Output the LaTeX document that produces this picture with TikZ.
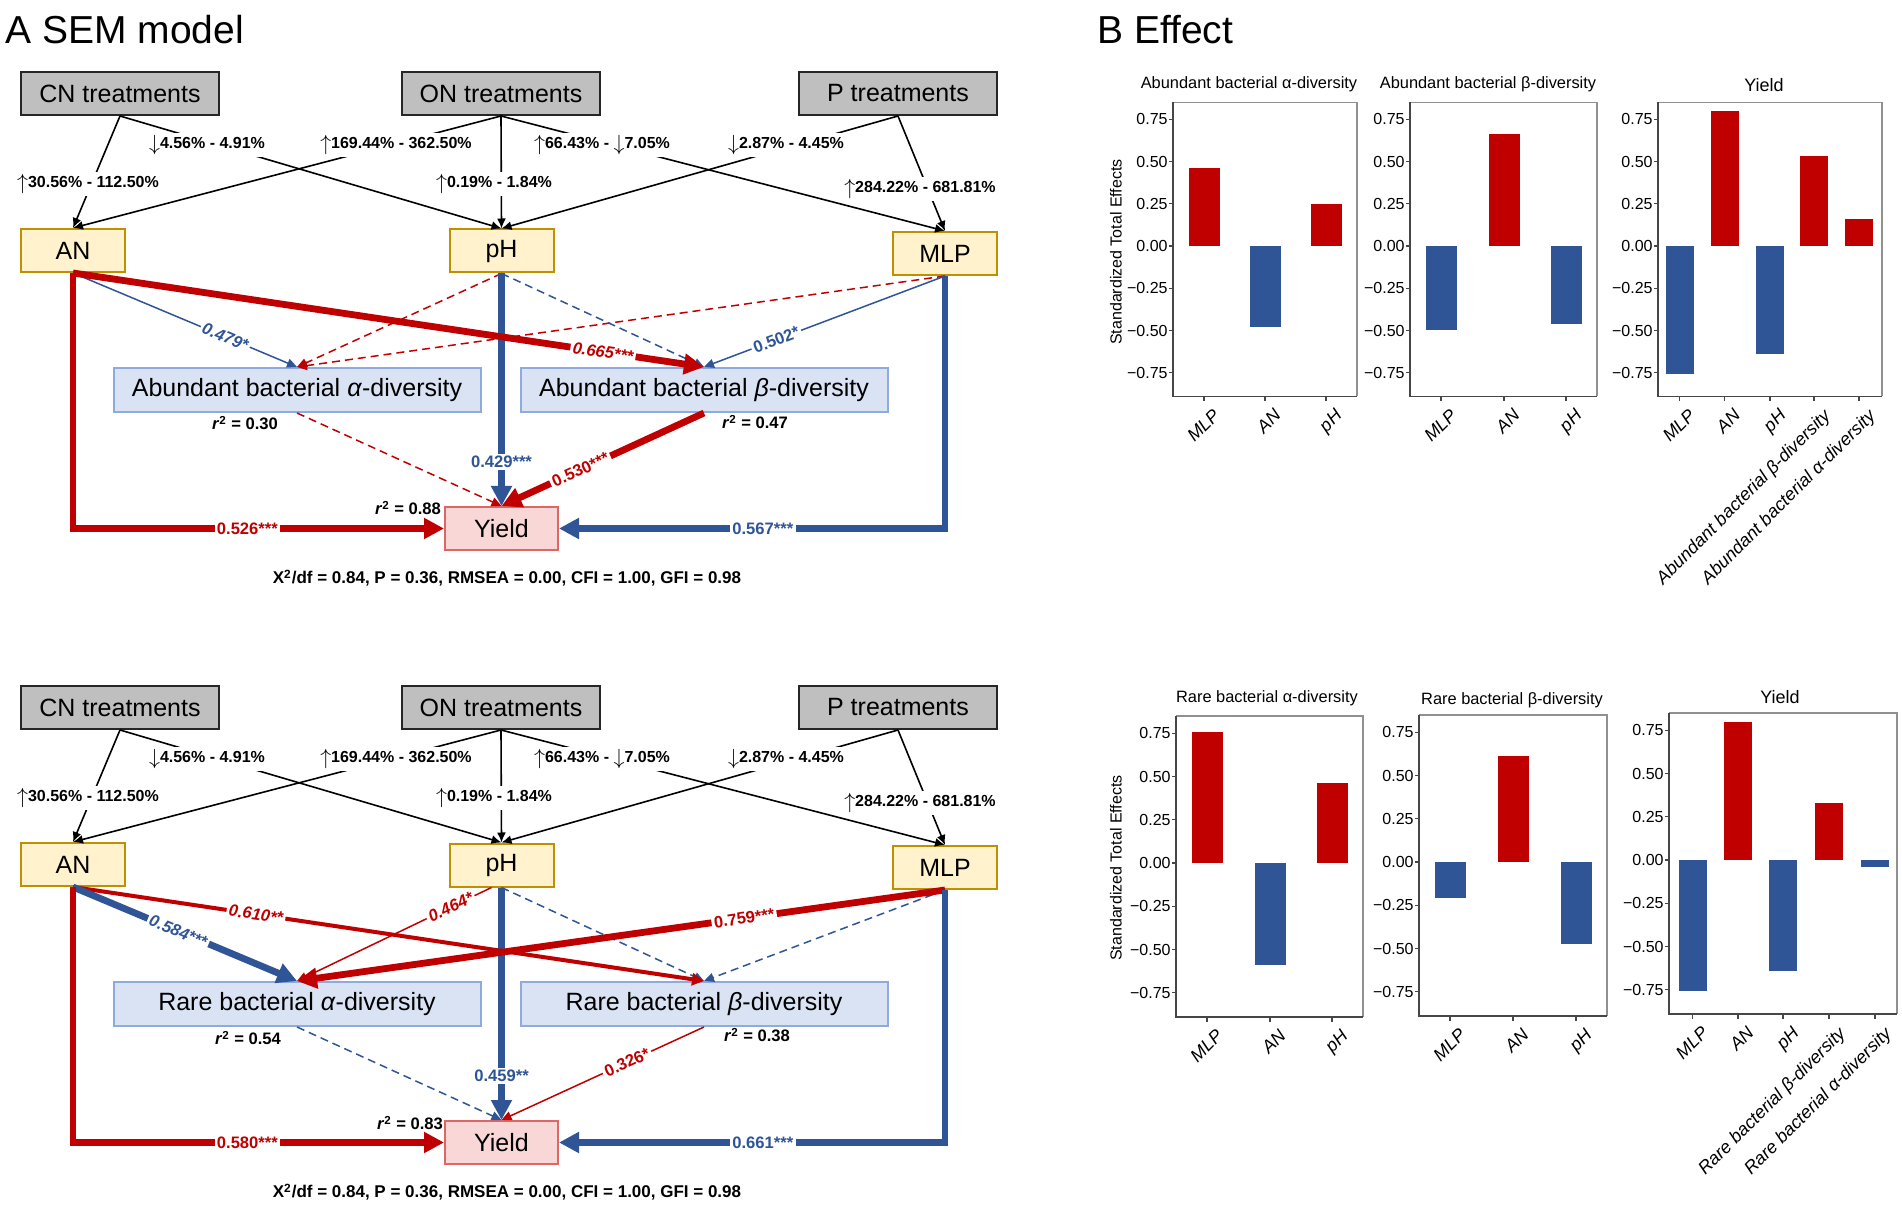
\documentclass[tikz,border=0pt]{standalone}
\usepackage{fontspec}
\setmainfont{Liberation Sans}
\usetikzlibrary{arrows.meta}
\definecolor{cred}{RGB}{192,0,0}
\definecolor{cblue}{RGB}{47,85,151}
\definecolor{boxgray}{RGB}{191,191,191}
\definecolor{ylfill}{RGB}{255,242,204}
\definecolor{ylborder}{RGB}{191,144,0}
\definecolor{blfill}{RGB}{218,227,243}
\definecolor{blborder}{RGB}{143,170,220}
\definecolor{ydfill}{RGB}{250,215,215}
\definecolor{ydborder}{RGB}{224,102,102}
\definecolor{axisc}{RGB}{70,70,70}
\newcommand\fsz[1]{\fontsize{#1}{#1}\selectfont}
\newcommand\upa{\raisebox{-0.8pt}{\fsz{10.5}$\uparrow$}}
\newcommand\dna{\raisebox{-0.8pt}{\fsz{10.5}$\downarrow$}}
\tikzset{
 nbox/.style={line width=1pt, minimum height=21.5pt, inner sep=0pt, font=\fsz{12.5}},
 grbox/.style={nbox, draw=black!85, fill=boxgray, minimum width=99pt},
 ylbox/.style={nbox, draw=ylborder, fill=ylfill, minimum width=52pt},
 blbox/.style={nbox, draw=blborder, fill=blfill, minimum width=183.5pt, minimum height=22pt},
 ydbox/.style={nbox, draw=ydborder, fill=ydfill, minimum width=56.5pt},
 pct/.style={fill=white, inner sep=1pt, font=\bfseries\fsz{8}},
 blk/.style={draw=black, line width=0.8pt, -{Latex[length=5pt,width=4.5pt]}},
 lab/.style={fill=white, inner sep=1.2pt, font=\bfseries\fsz{8.3}},
 it/.style={font=\bfseries\itshape\fsz{8.3}},
 rlab/.style={lab, text=cred},
 blab/.style={lab, text=cblue},
 thickR/.style={draw=cred, line width=3.4pt, -{Triangle[length=10pt,width=10pt]}},
 thickB/.style={draw=cblue, line width=3.4pt, -{Triangle[length=10pt,width=10pt]}},
 medR/.style={draw=cred, line width=2pt, -{Triangle[length=6pt,width=6pt]}},
 thinR/.style={draw=cred, line width=0.75pt, -{Triangle[length=5pt,width=4.5pt]}},
 thinB/.style={draw=cblue, line width=0.75pt, -{Triangle[length=5pt,width=4.5pt]}},
 dashR/.style={thinR, dash pattern=on 4pt off 2.5pt},
 dashB/.style={thinB, dash pattern=on 4pt off 2.5pt},
 rtwo/.style={font=\bfseries\fsz{8.3}, inner sep=0pt},
 fitlab/.style={font=\bfseries\fsz{8.5}, inner sep=0pt},
 ptitle/.style={font=\fsz{19.5}, anchor=west, inner sep=0pt},
 ticklab/.style={font=\fsz{8}, inner sep=0pt, anchor=east},
 ctitle/.style={font=\fsz{8.2}, inner sep=0pt},
 ytitle/.style={font=\fsz{8}, inner sep=0pt, rotate=90},
 xlab/.style={anchor=north east, rotate=45, font=\itshape\fsz{9}, inner sep=0pt},
 axl/.style={draw=axisc, line width=0.6pt},
}
\newcommand\semcommon[2]{%
 \node[grbox] (#1cn) at (120,93.5) {CN treatments};
 \node[grbox] (#1on) at (501,93.5) {ON treatments};
 \node[grbox] (#1p) at (898,93.5) {P treatments};
 \node[ylbox] (#1an) at (73,250.5) {AN};
 \node[ylbox] (#1ph) at (501.5,251) {pH};
 \node[ylbox] (#1mlp) at (945,253.5) {MLP};
 \node[blbox] (#1a) at (297,390) {#2 bacterial \textit{α}-diversity};
 \node[blbox] (#1b) at (704,390) {#2 bacterial \textit{β}-diversity};
 \node[ydbox] (#1y) at (501.5,528.5) {Yield};
 \draw[blk] (#1cn.south) -- (#1an.north);
 \draw[blk] (#1cn.south) -- (#1ph.north);
 \draw[blk] (#1on.south) -- (#1an.north);
 \draw[blk] (#1on.south) -- (#1ph.north);
 \draw[blk] (#1on.south) -- (#1mlp.north);
 \draw[blk] (#1p.south) -- (#1ph.north);
 \draw[blk] (#1p.south) -- (#1mlp.north);
 \node[pct] (#1l1) at (88,184) {\upa30.56\% - 112.50\%};
 \node[pct] (#1l2) at (207,145) {\dna4.56\% - 4.91\%};
 \node[pct] (#1l3) at (396,145) {\upa169.44\% - 362.50\%};
 \node[pct] (#1l4) at (494,184) {\upa0.19\% - 1.84\%};
 \node[pct] (#1l5) at (602,145) {\upa66.43\% - \dna7.05\%};
 \node[pct] (#1l6) at (786,145) {\dna2.87\% - 4.45\%};
 \node[pct] (#1l7) at (920,189) {\upa284.22\% - 681.81\%};
 \node[fitlab] (#1fit) at (507,578) {X\textsuperscript{2}/df = 0.84, P = 0.36, RMSEA = 0.00, CFI = 1.00, GFI = 0.98};
}
% #1 x0, #2 x1, #3 zero y, #4 unit (px per 1.0), #5 prefix
\newcommand\chartaxes[5]{%
 \draw[axl, draw=axisc!60, line width=0.7pt] (#1,{#3-0.85*#4}) -- (#2,{#3-0.85*#4}) -- (#2,{#3+0.89*#4});
 \draw[axl, line width=0.8pt] (#1,{#3-0.85*#4}) -- (#1,{#3+0.89*#4}) -- (#2,{#3+0.89*#4});
 \foreach \v/\lab [count=\i] in {0.75/0.75, 0.5/0.50, 0.25/0.25, 0/0.00, -0.25/−0.25, -0.5/−0.50, -0.75/−0.75} {
   \draw[axl] ({#1-4},{#3-(\v)*#4}) -- (#1,{#3-(\v)*#4});
   \node[ticklab] (#5y\i) at ({#1-5},{#3-(\v)*#4}) {\lab};
 }
}
% #1 zero y, #2 unit, #3 half width, #4 prefix, #5 list
\newcommand\chartbars[5]{%
 \foreach \cx/\v/\cc/\lab [count=\i] in {#5} {
   \fill[\cc] ({\cx-#3},#1) rectangle ({\cx+#3},{#1-(\v)*#2});
   \draw[axl] (\cx,{#1+0.89*#2}) -- (\cx,{#1+0.89*#2+5});
   \node[xlab] (#4x\i) at ({\cx+8},{#1+0.89*#2+11}) {\lab};
 }
}
\begin{document}
\begin{tikzpicture}[x=0.5pt,y=-0.5pt]
\fill[white] (0,0) rectangle (1902,1208);
\useasboundingbox (0,0) rectangle (1902,1208);
\node[ptitle] (tA) at (5,30) {A SEM model};
\node[ptitle] (tB) at (1097,30) {B Effect};

% ---------------- top SEM ----------------
\semcommon{t}{Abundant}
\draw[dashR] (tph.south) -- (ta.north);
\draw[dashR] (tmlp.south) -- (ta.north);
\draw[dashB] (tph.south) -- (tb.north);
\draw[dashR] (ta.south) -- (ty.north);
\draw[thickB] (tph.south) -- node[blab,pos=0.81]{0.429***} (ty.north);
\draw[thinB] (tan.south) -- node[blab,it,sloped,pos=0.68]{0.479*} (ta.north);
\draw[thinB] (tmlp.south) -- node[blab,sloped,pos=0.70]{0.502*} (tb.north);
\draw[thickR] (tan.south) -- node[rlab,it,sloped,pos=0.84]{0.665***} (tb.north);
\draw[thickR] (tb.south) -- node[rlab,sloped,pos=0.61]{0.530***} (ty.north);
\draw[thickR] (tan.south) |- node[rlab,pos=0.735]{0.526***} (ty.west);
\draw[thickB] (tmlp.south) |- node[blab,pos=0.736]{0.567***} (ty.east);
\node[rtwo] (tr1) at (245,423) {\textit{r}\textsuperscript{2} = 0.30};
\node[rtwo] (tr2) at (755,422) {\textit{r}\textsuperscript{2} = 0.47};
\node[rtwo] (tr3) at (408,508) {\textit{r}\textsuperscript{2} = 0.88};

% ---------------- bottom SEM ----------------
\begin{scope}[yshift=-307pt]
\semcommon{b}{Rare}
\draw[dashB] (bph.south) -- (bb.north);
\draw[dashB] (bmlp.south) -- (bb.north);
\draw[dashB] (ba.south) -- (by.north);
\draw[thickB] (bph.south) -- node[blab,pos=0.81]{0.459**} (by.north);
\draw[thinR] ([xshift=-5pt]bph.south) -- node[rlab,it,sloped,pos=0.21]{0.464*} (ba.north);
\draw[medR] (ban.south) -- node[rlab,it,sloped,pos=0.29]{0.610**} (bb.north);
\draw[thickB] (ban.south) -- node[blab,it,sloped,pos=0.47]{0.584***} (ba.north);
\draw[thickR] (bmlp.south) -- node[rlab,sloped,pos=0.31]{0.759***} (ba.north);
\draw[thinR] (bb.south) -- node[rlab,sloped,pos=0.38]{0.326*} (by.north);
\draw[thickR] (ban.south) |- node[rlab,pos=0.735]{0.580***} (by.west);
\draw[thickB] (bmlp.south) |- node[blab,pos=0.736]{0.661***} (by.east);
\node[rtwo] (br1) at (248,424) {\textit{r}\textsuperscript{2} = 0.54};
\node[rtwo] (br2) at (757,421) {\textit{r}\textsuperscript{2} = 0.38};
\node[rtwo] (br3) at (410,509) {\textit{r}\textsuperscript{2} = 0.83};
\end{scope}

% ---------------- top charts ----------------
\node[ytitle] (yt1) at (1116,252) {Standardized Total Effects};
\node[ctitle] (ct1) at (1249,84) {Abundant bacterial α-diversity};
\node[ctitle] (ct2) at (1488,84) {Abundant bacterial β-diversity};
\node[ctitle, font=\fsz{9}] (ct3) at (1764,85) {Yield};
\chartaxes{1173}{1357}{246}{169}{ta1}
\chartbars{246}{169}{15.5}{ta1}{1204/0.46/cred/MLP, 1265/-0.48/cblue/AN, 1326/0.25/cred/pH}
\chartaxes{1410}{1597}{246}{169}{ta2}
\chartbars{246}{169}{15.5}{ta2}{1441/-0.50/cblue/MLP, 1504/0.665/cred/AN, 1566/-0.46/cblue/pH}
\chartaxes{1658}{1882}{246}{169}{ta3}
\chartbars{246}{169}{14}{ta3}{1679.5/-0.76/cblue/MLP, 1724.5/0.80/cred/AN, 1770/-0.64/cblue/pH, 1814/0.53/cred/Abundant bacterial β-diversity, 1859/0.16/cred/Abundant bacterial α-diversity}

% ---------------- bottom charts ----------------
\node[ytitle] (yt2) at (1116,868) {Standardized Total Effects};
\node[ctitle] (cb1) at (1267,698) {Rare bacterial α-diversity};
\node[ctitle] (cb2) at (1512,700) {Rare bacterial β-diversity};
\node[ctitle, font=\fsz{9}] (cb3) at (1780,697) {Yield};
\chartaxes{1176}{1363}{863}{173}{ba1}
\chartbars{863}{173}{15.5}{ba1}{1207/0.76/cred/MLP, 1270/-0.59/cblue/AN, 1332/0.465/cred/pH}
\chartaxes{1419}{1607}{862}{173}{ba2}
\chartbars{862}{173}{15.5}{ba2}{1450/-0.21/cblue/MLP, 1513/0.61/cred/AN, 1576/-0.475/cblue/pH}
\chartaxes{1669}{1897}{860}{173}{ba3}
\chartbars{860}{173}{14}{ba3}{1692.5/-0.76/cblue/MLP, 1738/0.80/cred/AN, 1783/-0.64/cblue/pH, 1829/0.33/cred/Rare bacterial β-diversity, 1875/-0.04/cblue/Rare bacterial α-diversity}
\end{tikzpicture}
\end{document}
